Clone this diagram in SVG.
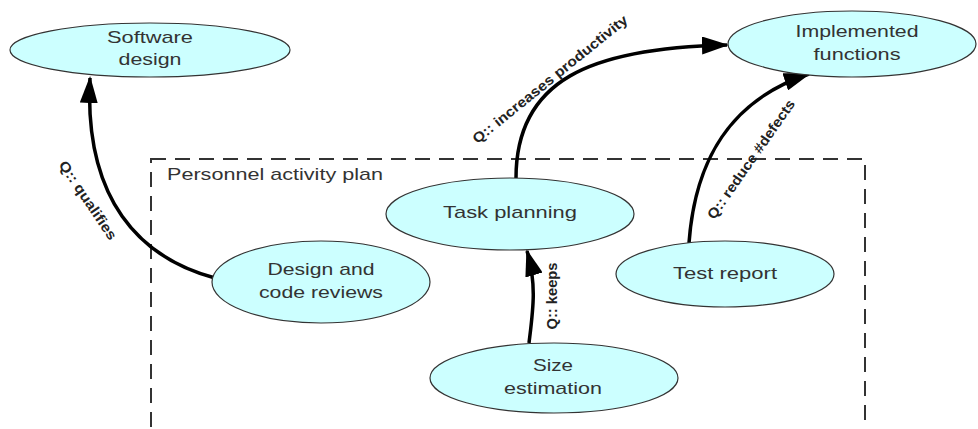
<svg xmlns="http://www.w3.org/2000/svg" width="978" height="429" viewBox="0 0 978 429">
<style>
.node ellipse{fill:#ccffff;stroke:#333;stroke-width:1.2}
.node text{font-family:"Liberation Sans",Arial,sans-serif;font-size:17px;fill:#333;text-anchor:middle}
.edge{fill:none;stroke:#000;stroke-width:3.5}
.elabel{font-family:"Liberation Sans",Arial,sans-serif;font-size:14px;font-weight:bold;fill:#222;text-anchor:middle}
.frame{fill:none;stroke:#333;stroke-width:2;stroke-dasharray:15 9}
.ftitle{font-family:"Liberation Sans",Arial,sans-serif;font-size:17px;fill:#333}
</style>
<defs>
<marker id="arr" markerUnits="userSpaceOnUse" markerWidth="27" markerHeight="18" viewBox="0 0 27 18" refX="25" refY="9" orient="auto">
<path d="M0,0 L27,9 L0,18 z" fill="#000"/>
</marker>
</defs>
<rect x="0" y="0" width="978" height="429" fill="#fff"/>
<g id="frame">
<rect class="frame" x="151" y="159" width="714" height="320"/>
<text class="ftitle" x="167" y="180" textLength="216" lengthAdjust="spacingAndGlyphs">Personnel activity plan</text>
</g>
<g id="connectors">
<path class="edge" d="M215,278 C140,258 84,200 90,78" marker-end="url(#arr)"/>
<text class="elabel" transform="translate(84,203) rotate(56)" textLength="92" lengthAdjust="spacingAndGlyphs">Q:: qualifies</text>
<path class="edge" d="M516,178 C516,80 590,48 727,45" marker-end="url(#arr)"/>
<text class="elabel" transform="translate(553,83) rotate(-39)" textLength="195" lengthAdjust="spacingAndGlyphs">Q:: increases productivity</text>
<path class="edge" d="M689,243 C695,160 730,100 809,74" marker-end="url(#arr)"/>
<text class="elabel" transform="translate(755,162) rotate(-55)" textLength="142" lengthAdjust="spacingAndGlyphs">Q:: reduce #defects</text>
<path class="edge" d="M529,343 C533,310 537,285 527,251" marker-end="url(#arr)"/>
<text class="elabel" transform="translate(557,296) rotate(-90)" textLength="67" lengthAdjust="spacingAndGlyphs">Q:: keeps</text>
</g>
<g id="software-design" class="node">
<ellipse cx="150" cy="50" rx="140" ry="27"/>
<text x="150" y="43" textLength="86" lengthAdjust="spacingAndGlyphs">Software</text>
<text x="150" y="65" textLength="63" lengthAdjust="spacingAndGlyphs">design</text>
</g>
<g id="implemented-functions" class="node">
<ellipse cx="852" cy="44" rx="124" ry="33"/>
<text x="857" y="37" textLength="123" lengthAdjust="spacingAndGlyphs">Implemented</text>
<text x="857" y="60" textLength="87" lengthAdjust="spacingAndGlyphs">functions</text>
</g>
<g id="task-planning" class="node">
<ellipse cx="510" cy="214" rx="124" ry="36"/>
<text x="510" y="218" textLength="134" lengthAdjust="spacingAndGlyphs">Task planning</text>
</g>
<g id="design-code-reviews" class="node">
<ellipse cx="321" cy="282" rx="109" ry="41"/>
<text x="321" y="275" textLength="107" lengthAdjust="spacingAndGlyphs">Design and</text>
<text x="321" y="298" textLength="124" lengthAdjust="spacingAndGlyphs">code reviews</text>
</g>
<g id="test-report" class="node">
<ellipse cx="725" cy="274" rx="109" ry="33"/>
<text x="725" y="279" textLength="104" lengthAdjust="spacingAndGlyphs">Test report</text>
</g>
<g id="size-estimation" class="node">
<ellipse cx="554" cy="378" rx="124" ry="35"/>
<text x="553" y="371" textLength="40" lengthAdjust="spacingAndGlyphs">Size</text>
<text x="553" y="394" textLength="98" lengthAdjust="spacingAndGlyphs">estimation</text>
</g>
</svg>
